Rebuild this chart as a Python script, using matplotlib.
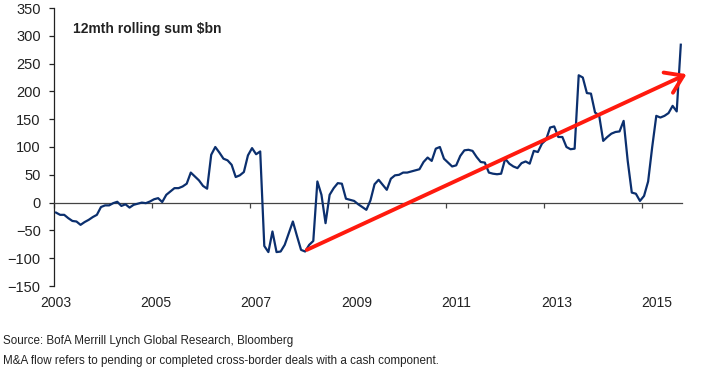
import numpy as np
import matplotlib
matplotlib.use("Agg")
import matplotlib.pyplot as plt
from matplotlib import font_manager

# 12-month rolling sum, $bn, monthly from Jan 2003
start_year = 2003
flow = [
    -18, -22, -22, -28, -33, -34, -40, -35, -31, -26, -22, -8,
    -5, -5, -1, 1.5, -6, -3, -9, -4, -2, 0, -1, 2,
    6, 8, 1, 14, 20, 26, 26, 29, 34, 54, 47, 40,
    30, 25, 86, 100, 90, 79, 76, 68, 46, 49, 55, 85,
    98, 87, 92, -78, -89, -52, -89, -88, -76, -55, -34, -60,
    -85, -88, -76, -69, 38, 14, -37, 14, 26, 35, 34, 7,
    5, 3, -3, -8, -13, 4, 33, 41, 32, 23, 43, 49,
    50, 54, 54, 56, 58, 60, 73, 81, 75, 97, 100, 79,
    72, 65, 67, 84, 94, 95, 93, 82, 73, 72, 54, 52,
    51, 52, 79, 70, 65, 62, 71, 74, 70, 93, 91, 106,
    113, 135, 137, 118, 118, 100, 96, 97, 229, 225, 197, 196,
    162, 157, 111, 118, 124, 127, 128, 147, 75, 18, 16, 3,
    12, 38, 100, 156, 153, 156, 161, 174, 164, 284,
]
year_ticks = [2003, 2005, 2007, 2009, 2011, 2013, 2015]
y_ticks = [-150, -100, -50, 0, 50, 100, 150, 200, 250, 300, 350]
arrow_from = (2008.16, -85)
arrow_to = (2015.91, 231)

title = "12mth rolling sum $bn"
source = "Source: BofA Merrill Lynch Global Research, Bloomberg"
note = "M&A flow refers to pending or completed cross-border deals with a cash component."

names = {f.name for f in font_manager.fontManager.ttflist}
base_font = "Liberation Sans"
narrow_font = "Liberation Sans Narrow" if "Liberation Sans Narrow" in names else base_font
plt.rcParams['font.family'] = [base_font, 'DejaVu Sans']

fig = plt.figure(figsize=(7.15, 3.72), dpi=100)
ax = fig.add_axes([54 / 715, 1 - 286 / 372, 628 / 715, 278 / 372])

x = start_year + (np.arange(len(flow)) + 0.5) / 12
ax.plot(x, flow, color='#0b2f6e', lw=1.6, zorder=3)

ax.annotate('', xy=arrow_to, xytext=arrow_from, annotation_clip=False,
            arrowprops=dict(arrowstyle='->,head_length=0.6,head_width=0.4',
                            color='#ff1a0e', lw=2.8, mutation_scale=20,
                            shrinkA=0, shrinkB=0), zorder=4)

ax.set_xlim(2003, 2003 + 628 / 49)
ax.set_ylim(-150, 350)

for s in ['top', 'right']:
    ax.spines[s].set_visible(False)
ax.spines['left'].set_color('#222222')
ax.spines['left'].set_linewidth(0.9)
ax.spines['bottom'].set_position(('data', 0))
ax.spines['bottom'].set_color('#444444')
ax.spines['bottom'].set_linewidth(0.9)

ax.set_yticks(y_ticks)
ax.tick_params(axis='y', length=3.6, width=0.9, color='#222222', pad=6,
               labelsize=10.5, labelcolor='#222222')
for lab in ax.get_yticklabels():
    lab.set_fontfamily(narrow_font)

ax.set_xticks(year_ticks)
ax.tick_params(axis='x', length=3.6, width=0.9, color='#444444', labelbottom=False)

# year labels sit a little right of the tick marks, as in the source chart
years = np.array(year_ticks, dtype=float)
label_pos = years + 0.04 + 0.022 * (years - 2003)
sec = ax.secondary_xaxis(0)
sec.set_xticks(label_pos, labels=[str(y) for y in year_ticks])
sec.tick_params(length=0, pad=7, labelsize=10, labelcolor='#222222')
sec.spines['bottom'].set_visible(False)
for lab in sec.get_xticklabels():
    lab.set_fontfamily(narrow_font)

ax.text(0.03, 0.925, title, transform=ax.transAxes, fontsize=10,
        fontweight='bold', color='#222222', va='center', ha='left')

fig.text(3 / 715, 1 - 341 / 372, source, fontsize=8.4, family=narrow_font,
         color='#222222', va='center', ha='left')
fig.text(3 / 715, 1 - 361 / 372, note, fontsize=8.4, family=narrow_font,
         color='#222222', va='center', ha='left')

fig.savefig('out.png', dpi=100)
